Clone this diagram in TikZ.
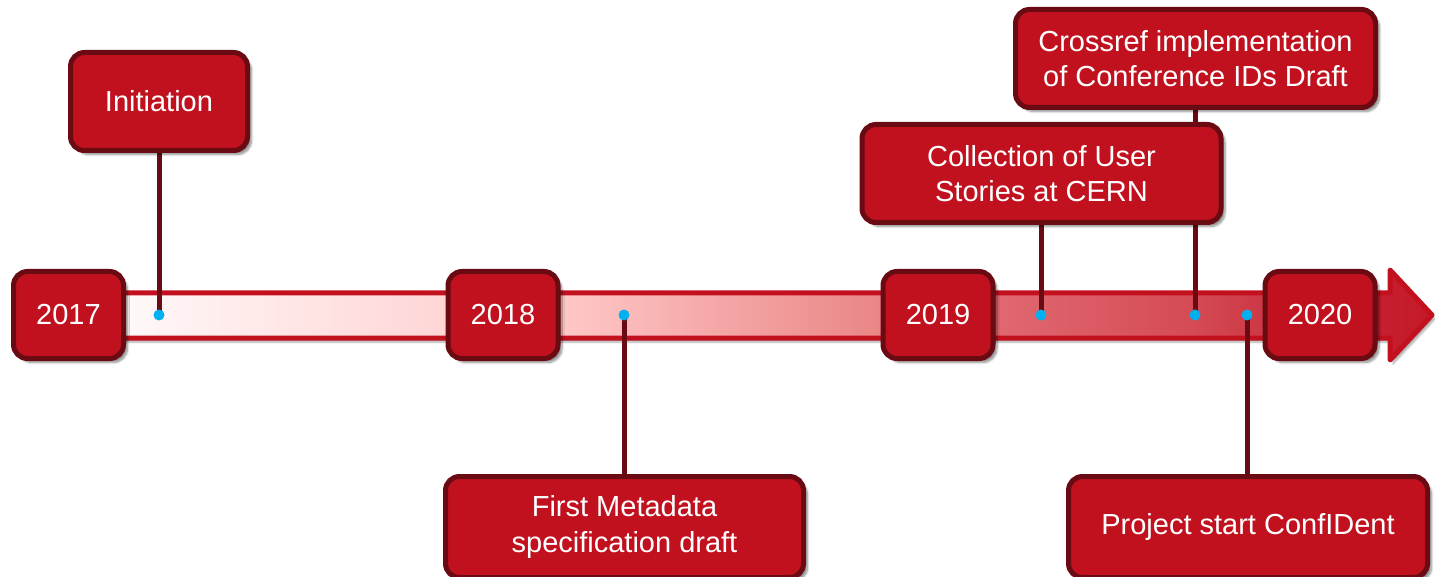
\documentclass[tikz,border=0pt]{standalone}
\usepackage{fontspec}
\setmainfont{Liberation Sans}
\usetikzlibrary{shadows.blur}
\definecolor{boxred}{HTML}{C1111F}
\definecolor{boxdark}{HTML}{6A0A12}
\definecolor{barred}{HTML}{C3101F}
\definecolor{dotblue}{HTML}{00B0F0}
\pgfdeclarelayer{bg}
\pgfdeclarelayer{mid}
\pgfsetlayers{bg,mid,main}
\pgfdeclarehorizontalshading{barshade}{100bp}{%
  color(0bp)=(white);
  color(25.5bp)=(white);
  color(27.9bp)=(rgb,255:red,255;green,244;blue,244);
  color(38.3bp)=(rgb,255:red,255;green,214;blue,214);
  color(42.7bp)=(rgb,255:red,255;green,200;blue,200);
  color(54.5bp)=(rgb,255:red,234;green,134;blue,134);
  color(58.9bp)=(rgb,255:red,224;green,104;blue,112);
  color(66.1bp)=(rgb,255:red,213;green,75;blue,85);
  color(68.2bp)=(rgb,255:red,206;green,60;blue,72);
  color(73.3bp)=(rgb,255:red,198;green,30;blue,46);
  color(75bp)=(rgb,255:red,196;green,26;blue,42);
  color(100bp)=(rgb,255:red,196;green,26;blue,42)}
\tikzset{
  tbox/.style={draw=boxdark, fill=boxred, line width=5pt, rounded corners=14pt,
    text=white, align=center, inner sep=0pt,
    font=\fontsize{29}{35.5}\selectfont,
    blur shadow={shadow xshift=4pt, shadow yshift=-4pt, shadow blur steps=8, shadow opacity=45}},
  yearbox/.style={tbox, minimum width=110pt, minimum height=87pt},
  conn/.style={draw=boxdark, line width=5pt},
  dot/.style={circle, fill=dotblue, inner sep=0pt, minimum size=11pt},
}
\begin{document}
\begin{tikzpicture}[x=1pt,y=-1pt]
\useasboundingbox (0,0) rectangle (1435,577);
% year boxes
\node[yearbox] (y17) at (68.5,315) {2017};
\node[yearbox] (y18) at (503,315) {2018};
\node[yearbox] (y19) at (938,315) {2019};
\node[yearbox] (y20) at (1320,315) {2020};
% event boxes
\node[tbox, minimum width=177pt, minimum height=98pt] (init) at (159,101.5) {Initiation};
\node[tbox, minimum width=358pt, minimum height=101pt] (meta) at (624.5,527) {First Metadata\\specification draft};
\node[tbox, minimum width=359pt, minimum height=98pt] (coll) at (1041.5,173.5) {Collection of User\\Stories at CERN};
\node[tbox, minimum width=360pt, minimum height=98pt] (cross) at (1195.5,58.5) {Crossref implementation\\of Conference IDs Draft};
\node[tbox, minimum width=359pt, minimum height=101pt] (proj) at (1248,527) {Project start ConfIDent};
% dot positions
\coordinate (d1) at (159,315);
\coordinate (d2) at (624,315);
\coordinate (d3) at (1041,315);
\coordinate (d4) at (1195,315);
\coordinate (d5) at (1247,315);
% bar
\begin{pgfonlayer}{bg}
\path[shading=barshade, draw=barred, line width=5pt, line join=round,
  blur shadow={shadow xshift=3pt, shadow yshift=-4pt, shadow blur steps=6, shadow opacity=35}]
  (80,293) -- (1390,293) -- (1390,270) -- (1432,315) -- (1390,360) -- (1390,338) -- (80,338) -- cycle;
\end{pgfonlayer}
% connectors and dots
\begin{pgfonlayer}{mid}
\draw[conn] (init.south) -- (d1);
\draw[conn] (d2) -- (d2 |- meta.north);
\draw[conn] (d3 |- coll.south) -- (d3);
\draw[conn] (d4 |- cross.south) -- (d4);
\draw[conn] (d5) -- (d5 |- proj.north);
\node[dot] (p1) at (d1) {};
\node[dot] (p2) at (d2) {};
\node[dot] (p3) at (d3) {};
\node[dot] (p4) at (d4) {};
\node[dot] (p5) at (d5) {};
\end{pgfonlayer}
\end{tikzpicture}
\end{document}
